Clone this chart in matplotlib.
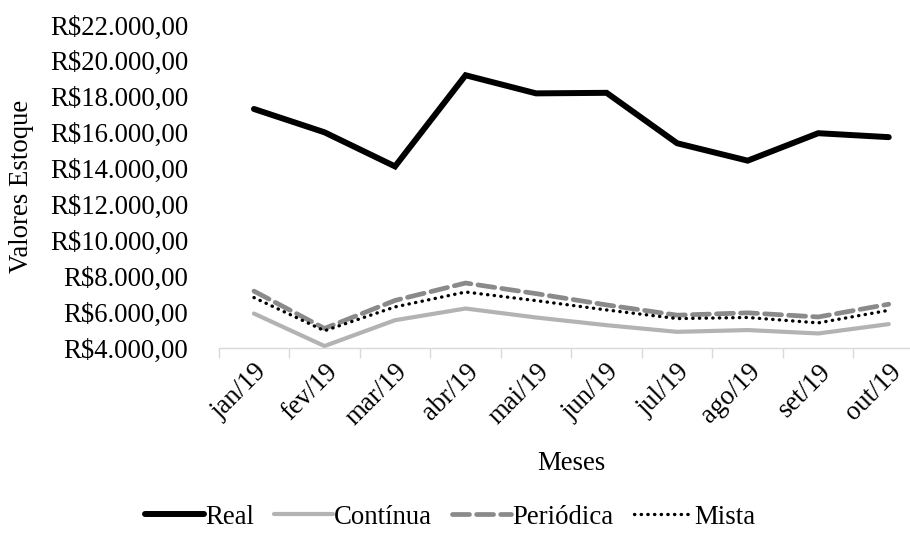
import numpy as np
import matplotlib
matplotlib.use('Agg')
import matplotlib.pyplot as plt
from matplotlib.ticker import FuncFormatter

plt.rcParams['font.family'] = ['Liberation Serif', 'DejaVu Serif']

meses = ['jan/19', 'fev/19', 'mar/19', 'abr/19', 'mai/19',
         'jun/19', 'jul/19', 'ago/19', 'set/19', 'out/19']
real = [17320, 16020, 14120, 19200, 18190, 18220, 15410, 14440, 15970, 15750]
continua = [5920, 4110, 5550, 6200, 5700, 5270, 4900, 5000, 4810, 5330]
periodica = [7170, 5090, 6650, 7620, 7030, 6400, 5830, 5960, 5730, 6440]
mista = [6810, 4960, 6290, 7120, 6640, 6120, 5640, 5700, 5400, 6100]


def reais(v, pos):
    s = f"{v:,.2f}".replace(',', 'X').replace('.', ',').replace('X', '.')
    return 'R\\$' + s


fs = 19.3
fig = plt.figure(figsize=(9.1, 5.45), dpi=100)
ax = fig.add_axes([218.7 / 910, 1 - 348 / 545, (924 - 218.7) / 910, (348 - 25) / 545])

x = np.arange(len(meses))
ax.plot(x, real, color='black', lw=4.3, solid_capstyle='round', solid_joinstyle='miter', label='Real')
ax.plot(x, continua, color='#b3b3b3', lw=3.0, solid_capstyle='round', label='Contínua')
ax.plot(x, periodica, color='#8a8a8a', lw=3.4, dashes=(3.6, 1.5), dash_capstyle='round', label='Periódica')
ax.plot(x, mista, color='black', lw=2.4, dashes=(0.1, 1.9), dash_capstyle='round', label='Mista')

ax.set_xlim(-0.5, len(meses) - 0.5)
ax.set_ylim(4000, 22000)
ax.set_yticks(np.arange(4000, 22001, 2000))
ax.yaxis.set_major_formatter(FuncFormatter(reais))
ax.tick_params(axis='y', length=0, pad=22, labelsize=fs)

ax.set_xticks(np.arange(-0.5, len(meses)), labels=[])
ax.set_xticks(x, labels=meses, minor=True)
ax.tick_params(axis='x', which='major', length=7, color='#d9d9d9', width=1)
ax.tick_params(axis='x', which='minor', length=0, pad=8, labelsize=fs)
for lab in ax.get_xticklabels(minor=True):
    lab.set_rotation(45)
    lab.set_ha('right')
    lab.set_va('top')
    lab.set_rotation_mode('anchor')

for s in ['top', 'right', 'left']:
    ax.spines[s].set_visible(False)
ax.spines['bottom'].set_color('#d9d9d9')
ax.spines['bottom'].set_linewidth(1)

fig.text(22 / 910, 1 - 186 / 545, 'Valores Estoque', rotation=90, ha='center', va='center', fontsize=fs)
fig.text(571 / 910, 1 - 463 / 545, 'Meses', ha='center', va='center', fontsize=fs)

fig.legend(loc='center', bbox_to_anchor=(450 / 910, 1 - 517 / 545), ncol=4, frameon=False,
           fontsize=fs, handlelength=2.2, handletextpad=0.05, columnspacing=0.75)

fig.savefig('out.png', dpi=100)
